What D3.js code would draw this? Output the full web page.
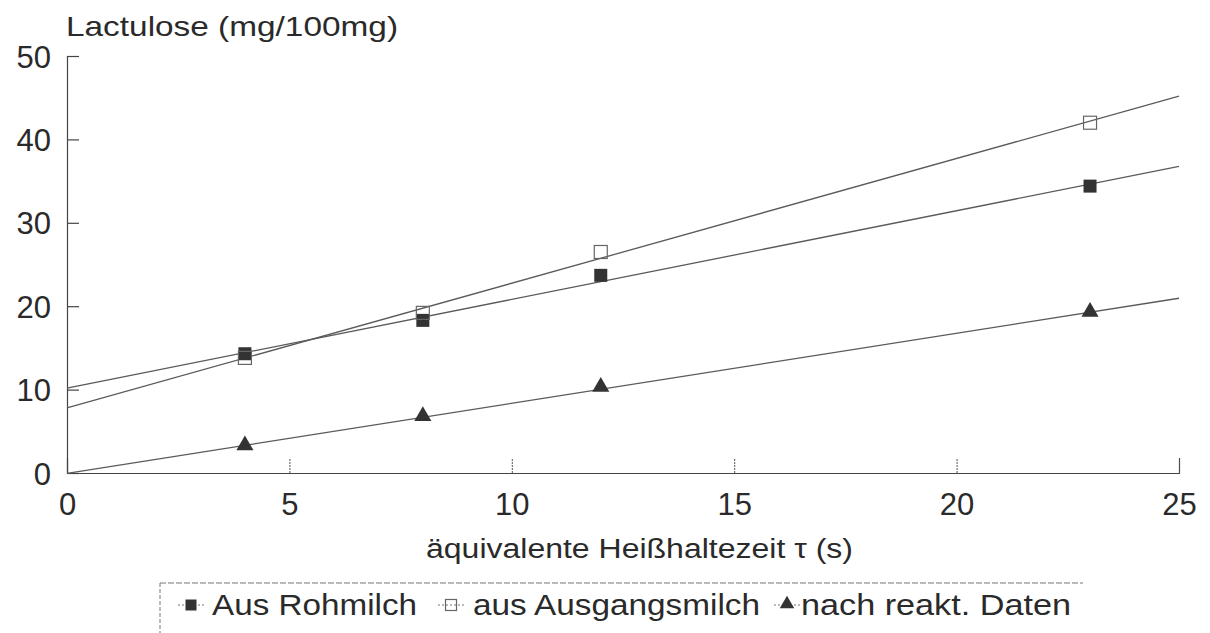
<!DOCTYPE html>
<html>
<head>
<meta charset="utf-8">
<script src="https://cdn.jsdelivr.net/npm/d3@7"></script>
<style>
  html, body { margin: 0; padding: 0; background: #fff; }
  svg { display: block; }
  text { font-family: "Liberation Sans", Arial, Helvetica, sans-serif; fill: #2a2a2a; }
</style>
</head>
<body>
<svg id="chart" width="1210" height="633"></svg>
<script>
// Heat-holding time (s) and lactulose content (mg/100mg) for three data sets
const times = [4, 8, 12, 23];
const rohmilch = [14.3, 18.3, 23.7, 34.4];
const ausgangsmilch = [13.8, 19.2, 26.5, 42.0];
const reaktDaten = [3.2, 6.7, 10.2, 19.2];

const seriesNames = ["Aus Rohmilch", "aus Ausgangsmilch", "nach reakt. Daten"];
const xTicks = [0, 5, 10, 15, 20, 25];
const yTicks = [0, 10, 20, 30, 40, 50];

const yTitle = "Lactulose (mg/100mg)";
const xTitle = "äquivalente Heißhaltezeit \u03C4 (s)";

const svg = d3.select("#chart");

const x = d3.scaleLinear().domain([0, 25]).range([67, 1179]);
const y = d3.scaleLinear().domain([0, 50]).range([473, 56]);

const ink = "#2b2b2b";
const lineCol = "#5a5a5a";

// least-squares straight line through a series
function fit(xs, ys) {
  const mx = d3.mean(xs), my = d3.mean(ys);
  let sxy = 0, sxx = 0;
  xs.forEach((v, i) => { sxy += (v - mx) * (ys[i] - my); sxx += (v - mx) * (v - mx); });
  const b = sxy / sxx;
  return { a: my - b * mx, b };
}

const series = [
  { name: seriesNames[0], values: rohmilch, marker: "filledSquare" },
  { name: seriesNames[1], values: ausgangsmilch, marker: "openSquare" },
  { name: seriesNames[2], values: reaktDaten, marker: "triangle" }
];

// axes
const yAxis = d3.axisLeft(y).tickValues(yTicks).tickSize(-12).tickPadding(16);
const gy = svg.append("g").attr("transform", `translate(${x(0)},0)`).call(yAxis);
gy.select(".domain").attr("stroke", "#444").attr("stroke-width", 1.2);
gy.selectAll(".tick line").attr("stroke", "#444").attr("stroke-width", 1.2);
gy.selectAll(".tick text").attr("font-size", 31).attr("fill", ink).attr("dy", "0.36em")
  .attr("font-family", null);

const xAxis = d3.axisBottom(x).tickValues(xTicks).tickSize(-15).tickPadding(20);
const gx = svg.append("g").attr("transform", `translate(0,${y(0)})`).call(xAxis);
gx.select(".domain").attr("stroke", "#444").attr("stroke-width", 1.2);
gx.selectAll(".tick line").attr("stroke", "#555").attr("stroke-width", 1)
  .attr("stroke-dasharray", "2,1");
gx.selectAll(".tick").filter(d => d === 0).select("line").remove();
gx.selectAll(".tick text").attr("font-size", 31).attr("fill", ink).attr("dy", "0.71em")
  .attr("font-family", null);

// axis titles
svg.append("text").attr("x", 66).attr("y", 36)
  .attr("font-size", 28).attr("textLength", 332).attr("lengthAdjust", "spacingAndGlyphs")
  .text(yTitle);
svg.append("text").attr("x", 426).attr("y", 558)
  .attr("font-size", 27).attr("textLength", 427).attr("lengthAdjust", "spacingAndGlyphs")
  .text(xTitle);

// regression lines
const plot = svg.append("g");
series.forEach(s => {
  const f = fit(times, s.values);
  plot.append("line")
    .attr("x1", x(0)).attr("y1", y(f.a))
    .attr("x2", x(25)).attr("y2", y(f.a + f.b * 25))
    .attr("stroke", lineCol).attr("stroke-width", 1.3);
});

// marker drawing
function drawMarker(g, type, cx, cy, size) {
  const h = size / 2;
  if (type === "filledSquare") {
    g.append("rect").attr("x", cx - h).attr("y", cy - h).attr("width", size).attr("height", size)
      .attr("fill", "#333");
  } else if (type === "openSquare") {
    g.append("rect").attr("x", cx - h).attr("y", cy - h).attr("width", size).attr("height", size)
      .attr("fill", "#fff").attr("fill-opacity", 0).attr("stroke", "#666").attr("stroke-width", 1.2);
  } else {
    const sym = d3.symbol().type(d3.symbolTriangle).size(size * size * 0.75);
    g.append("path").attr("d", sym()).attr("transform", `translate(${cx},${cy - 1})`)
      .attr("fill", "#333");
  }
}

series.forEach(s => {
  const g = plot.append("g");
  times.forEach((t, i) => drawMarker(g, s.marker, x(t), y(s.values[i]), 13));
});

// legend
const legend = svg.append("g");
legend.append("line").attr("x1", 160).attr("y1", 583).attr("x2", 1083).attr("y2", 583)
  .attr("stroke", "#777").attr("stroke-width", 1).attr("stroke-dasharray", "6,2");
legend.append("line").attr("x1", 160).attr("y1", 583).attr("x2", 160).attr("y2", 633)
  .attr("stroke", "#777").attr("stroke-width", 1).attr("stroke-dasharray", "4,2");

const legendItems = [
  { marker: series[0].marker, name: series[0].name, mx: 191, tx: 212, tw: 205 },
  { marker: series[1].marker, name: series[1].name, mx: 451, tx: 473, tw: 287 },
  { marker: series[2].marker, name: series[2].name, mx: 787, tx: 801, tw: 270 }
];
legendItems.forEach(it => {
  const g = legend.append("g");
  g.append("line").attr("x1", it.mx - 13).attr("x2", it.mx + 13)
    .attr("y1", 605).attr("y2", 605).attr("stroke", "#777").attr("stroke-width", 1)
    .attr("stroke-dasharray", "2,2");
  drawMarker(g, it.marker, it.mx, 605, 11);
  g.append("text").attr("x", it.tx).attr("y", 615)
    .attr("font-size", 29).attr("textLength", it.tw).attr("lengthAdjust", "spacingAndGlyphs")
    .text(it.name);
});
</script>
</body>
</html>
